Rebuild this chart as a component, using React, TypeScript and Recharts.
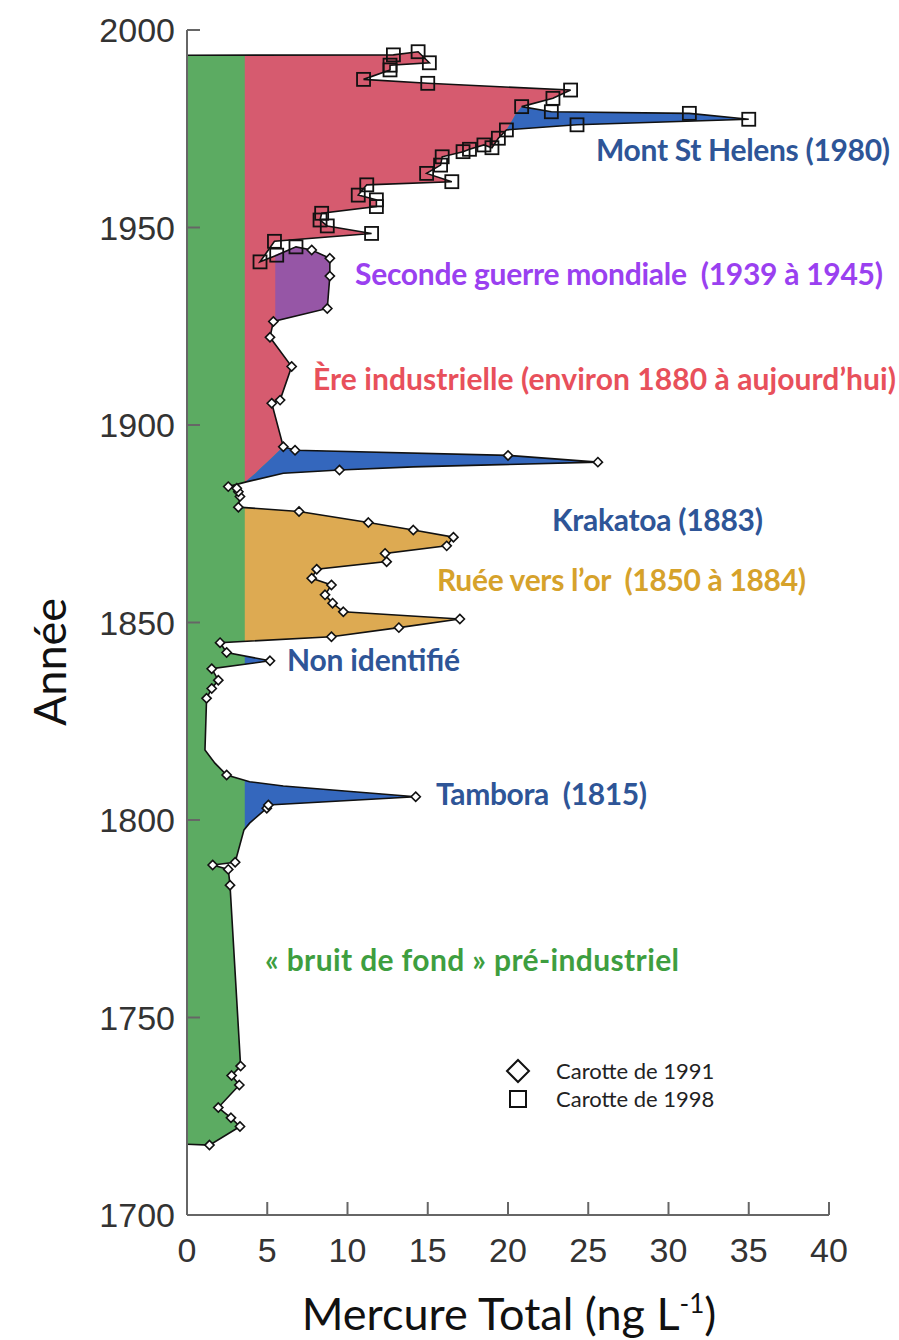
import React from "react";
import { ComposedChart, Area, Line, XAxis, YAxis } from "recharts";

// Mercury profile (year, total Hg ng/L) in the order of the drawn polyline
// core: "d" = carotte 1991 (diamond), "s" = carotte 1998 (square), "" = vertex without marker
const profile = [
  { year: 1717.9, hg: 0, core: "" },
  { year: 1717.7, hg: 1.4, core: "d" },
  { year: 1722.4, hg: 3.3, core: "d" },
  { year: 1724.6, hg: 2.74, core: "d" },
  { year: 1727.2, hg: 1.95, core: "d" },
  { year: 1732.9, hg: 3.26, core: "d" },
  { year: 1735.3, hg: 2.78, core: "d" },
  { year: 1737.7, hg: 3.34, core: "d" },
  { year: 1783.5, hg: 2.68, core: "d" },
  { year: 1787.5, hg: 2.57, core: "d" },
  { year: 1788.6, hg: 1.6, core: "d" },
  { year: 1789.3, hg: 3.0, core: "d" },
  { year: 1797.5, hg: 3.55, core: "" },
  { year: 1799.2, hg: 3.9, core: "" },
  { year: 1803.0, hg: 4.97, core: "d" },
  { year: 1803.8, hg: 5.07, core: "d" },
  { year: 1805.9, hg: 14.25, core: "d" },
  { year: 1807.2, hg: 10.2, core: "" },
  { year: 1808.6, hg: 6.0, core: "" },
  { year: 1809.7, hg: 3.9, core: "" },
  { year: 1811.4, hg: 2.47, core: "d" },
  { year: 1814.4, hg: 1.74, core: "" },
  { year: 1817.7, hg: 1.12, core: "" },
  { year: 1830.8, hg: 1.22, core: "d" },
  { year: 1833.3, hg: 1.54, core: "d" },
  { year: 1835.4, hg: 1.95, core: "d" },
  { year: 1838.3, hg: 1.54, core: "d" },
  { year: 1840.3, hg: 5.17, core: "d" },
  { year: 1842.4, hg: 2.47, core: "d" },
  { year: 1844.9, hg: 2.06, core: "d" },
  { year: 1846.4, hg: 9.0, core: "d" },
  { year: 1848.7, hg: 13.2, core: "d" },
  { year: 1850.9, hg: 17.0, core: "d" },
  { year: 1852.7, hg: 9.74, core: "d" },
  { year: 1854.9, hg: 9.07, core: "d" },
  { year: 1857.0, hg: 8.6, core: "d" },
  { year: 1859.5, hg: 9.0, core: "d" },
  { year: 1861.2, hg: 7.77, core: "d" },
  { year: 1863.5, hg: 8.08, core: "d" },
  { year: 1865.4, hg: 12.44, core: "d" },
  { year: 1867.5, hg: 12.34, core: "d" },
  { year: 1869.4, hg: 16.18, core: "d" },
  { year: 1871.6, hg: 16.6, core: "d" },
  { year: 1873.4, hg: 14.1, core: "d" },
  { year: 1875.3, hg: 11.3, core: "d" },
  { year: 1878.1, hg: 6.98, core: "d" },
  { year: 1879.2, hg: 3.2, core: "d" },
  { year: 1881.9, hg: 3.3, core: "d" },
  { year: 1883.1, hg: 3.2, core: "d" },
  { year: 1884.0, hg: 3.1, core: "d" },
  { year: 1884.4, hg: 2.57, core: "d" },
  { year: 1885.6, hg: 3.7, core: "" },
  { year: 1887.8, hg: 6.0, core: "" },
  { year: 1888.6, hg: 9.5, core: "d" },
  { year: 1889.4, hg: 14.1, core: "" },
  { year: 1890.6, hg: 25.6, core: "d" },
  { year: 1892.3, hg: 20.0, core: "d" },
  { year: 1893.6, hg: 6.73, core: "d" },
  { year: 1894.5, hg: 6.0, core: "d" },
  { year: 1905.5, hg: 5.28, core: "d" },
  { year: 1906.3, hg: 5.8, core: "d" },
  { year: 1914.8, hg: 6.52, core: "d" },
  { year: 1922.2, hg: 5.17, core: "d" },
  { year: 1926.2, hg: 5.38, core: "d" },
  { year: 1929.5, hg: 8.74, core: "d" },
  { year: 1937.7, hg: 8.9, core: "d" },
  { year: 1942.2, hg: 8.9, core: "d" },
  { year: 1944.3, hg: 7.77, core: "d" },
  { year: 1945.1, hg: 6.79, core: "s" },
  { year: 1943.0, hg: 5.59, core: "s" },
  { year: 1941.3, hg: 4.55, core: "s" },
  { year: 1946.5, hg: 5.45, core: "s" },
  { year: 1948.5, hg: 11.5, core: "s" },
  { year: 1950.4, hg: 8.74, core: "s" },
  { year: 1951.9, hg: 8.29, core: "s" },
  { year: 1953.6, hg: 8.39, core: "s" },
  { year: 1955.3, hg: 11.8, core: "s" },
  { year: 1957.0, hg: 11.8, core: "s" },
  { year: 1958.2, hg: 10.67, core: "s" },
  { year: 1960.8, hg: 11.2, core: "s" },
  { year: 1961.6, hg: 16.5, core: "s" },
  { year: 1963.7, hg: 14.93, core: "s" },
  { year: 1965.8, hg: 15.8, core: "s" },
  { year: 1967.9, hg: 15.9, core: "s" },
  { year: 1969.2, hg: 17.2, core: "s" },
  { year: 1969.8, hg: 17.6, core: "s" },
  { year: 1970.9, hg: 18.5, core: "s" },
  { year: 1970.2, hg: 19.0, core: "s" },
  { year: 1972.6, hg: 19.4, core: "s" },
  { year: 1974.7, hg: 19.9, core: "s" },
  { year: 1976.0, hg: 24.3, core: "s" },
  { year: 1977.4, hg: 35.0, core: "s" },
  { year: 1978.9, hg: 31.3, core: "s" },
  { year: 1979.3, hg: 22.7, core: "s" },
  { year: 1980.6, hg: 20.85, core: "s" },
  { year: 1982.7, hg: 22.8, core: "s" },
  { year: 1984.8, hg: 23.9, core: "s" },
  { year: 1986.5, hg: 15.0, core: "s" },
  { year: 1987.5, hg: 11.0, core: "s" },
  { year: 1989.9, hg: 12.65, core: "s" },
  { year: 1991.1, hg: 12.65, core: "s" },
  { year: 1991.7, hg: 15.1, core: "s" },
  { year: 1994.5, hg: 14.4, core: "s" },
  { year: 1993.7, hg: 12.86, core: "s" },
  { year: 1993.6, hg: 0, core: "" },
];

// pre-industrial background level and WWII inner edge (ng/L)
const BG = 3.6;
const WW = 5.5;

// red/blue boundary under Krakatoa (years, hg)
const krakYears = [1887.8, 1888.6, 1889.4, 1890.6, 1892.3, 1893.6];
const krakEdge = [4.27, 4.47, 4.68, 4.99, 5.43, 5.77];
// red/blue boundary under Mont St Helens
const mshYears = [1974.7, 1976.0, 1977.4, 1978.9, 1979.3, 1980.6];
const mshEdge = [19.9, 20.1, 20.3, 20.5, 20.6, 20.85];

const xTicks = [0, 5, 10, 15, 20, 25, 30, 35, 40];
const yTicks = [1700, 1750, 1800, 1850, 1900, 1950, 2000];

const idx = (y: number) => profile.findIndex((p) => p.year === y);
const slice = (from: number, to: number, lo: number) =>
  profile.slice(idx(from), idx(to) + 1).map((p) => ({ year: p.year, lo, hi: p.hg }));

const tamboraRows = [{ year: 1797.8, lo: BG, hi: BG }, ...slice(1799.2, 1809.7, BG), { year: 1810.1, lo: BG, hi: BG }];
const nonIdRows = [{ year: 1839.4, lo: BG, hi: BG }, ...slice(1840.3, 1840.3, BG), { year: 1841.5, lo: BG, hi: BG }];
const goldRows = [{ year: 1845.2, lo: BG, hi: BG }, ...slice(1846.4, 1878.1, BG), { year: 1879.1, lo: BG, hi: BG }];
const krakRows = [
  { year: 1885.5, lo: BG, hi: BG },
  ...slice(1887.8, 1893.6, BG).map((r, k) => ({ ...r, lo: krakEdge[k] })),
  { year: 1894.5, lo: 6.0, hi: 6.0 },
];
const mshRows = slice(1974.7, 1980.6, BG).map((r, k) => ({ ...r, lo: mshEdge[k] }));
const redRows = [
  { year: 1885.5, lo: BG, hi: BG },
  ...krakYears.map((y, k) => ({ year: y, lo: BG, hi: krakEdge[k] })),
  ...slice(1894.5, 1974.7, BG),
  ...mshYears.slice(1, 5).map((y, k) => ({ year: y, lo: BG, hi: mshEdge[k + 1] })),
  ...slice(1980.6, 1993.7, BG),
  { year: 1993.6, lo: BG, hi: BG },
];
const purpleRows = [{ year: 1926.4, lo: WW, hi: WW }, ...slice(1929.5, 1945.1, WW), { year: 1943.1, lo: WW, hi: WW }];

const range = (d: any) => [d.lo, d.hi];

const COLORS = {
  green: "#5cab62",
  red: "#d65b6f",
  blue: "#3467bd",
  purple: "#9656a6",
  orange: "#ddaa52",
};

const Marker = (props: any) => {
  const { cx, cy, payload, index } = props;
  const key = `m-${index}`;
  if (cx == null || cy == null || !payload || !payload.core) return <g key={key} />;
  if (payload.core === "s") {
    return <rect key={key} x={cx - 6.5} y={cy - 6.5} width={13} height={13} fill="none" stroke="#111" strokeWidth={1.8} />;
  }
  const r = 4.6;
  return (
    <path
      key={key}
      d={`M${cx},${cy - r}L${cx + r},${cy}L${cx},${cy + r}L${cx - r},${cy}Z`}
      fill="#fff"
      stroke="#111"
      strokeWidth={1.6}
    />
  );
};

const ann = { fontFamily: "Lato, 'Open Sans', sans-serif", fontWeight: 700, fontSize: 30, whiteSpace: "pre" } as const;
const small = { fontFamily: "Lato, sans-serif", fontSize: 22 } as const;
const big = { fontFamily: "Lato, sans-serif", fontSize: 45 } as const;

export default function App() {
  return (
    <div style={{ position: "relative", width: 899, height: 1340, background: "#fff" }}>
      <style>{"body{margin:0}"}</style>
      <ComposedChart
        width={899}
        height={1340}
        layout="vertical"
        margin={{ top: 30, right: 70, bottom: 0, left: 0 }}
      >
        <XAxis
          type="number"
          dataKey="hg"
          domain={[0, 40]}
          ticks={xTicks}
          height={125}
          tickSize={-13}
          tickMargin={36}
          axisLine={{ stroke: "#666", strokeWidth: 2 }}
          tickLine={{ stroke: "#666", strokeWidth: 2 }}
          tick={{ fill: "#333", fontSize: 34, fontFamily: "'Liberation Sans', Arial, sans-serif" }}
          allowDataOverflow
        />
        <YAxis
          type="number"
          dataKey="year"
          domain={[1700, 2000]}
          ticks={yTicks}
          reversed
          width={187}
          tickSize={-13}
          tickMargin={25}
          axisLine={{ stroke: "#666", strokeWidth: 2 }}
          tickLine={{ stroke: "#666", strokeWidth: 2 }}
          tick={{ fill: "#333", fontSize: 34, fontFamily: "'Liberation Sans', Arial, sans-serif" }}
          allowDataOverflow
        />
        <Area data={profile} dataKey="hg" type="linear" fill={COLORS.green} fillOpacity={1} stroke="none" isAnimationActive={false} activeDot={false} />
        <Area data={redRows} dataKey={range} type="linear" fill={COLORS.red} fillOpacity={1} stroke="none" isAnimationActive={false} activeDot={false} />
        <Area data={purpleRows} dataKey={range} type="linear" fill={COLORS.purple} fillOpacity={1} stroke="none" isAnimationActive={false} activeDot={false} />
        <Area data={mshRows} dataKey={range} type="linear" fill={COLORS.blue} fillOpacity={1} stroke="none" isAnimationActive={false} activeDot={false} />
        <Area data={krakRows} dataKey={range} type="linear" fill={COLORS.blue} fillOpacity={1} stroke="none" isAnimationActive={false} activeDot={false} />
        <Area data={tamboraRows} dataKey={range} type="linear" fill={COLORS.blue} fillOpacity={1} stroke="none" isAnimationActive={false} activeDot={false} />
        <Area data={nonIdRows} dataKey={range} type="linear" fill={COLORS.blue} fillOpacity={1} stroke="none" isAnimationActive={false} activeDot={false} />
        <Area data={goldRows} dataKey={range} type="linear" fill={COLORS.orange} fillOpacity={1} stroke="none" isAnimationActive={false} activeDot={false} />
        <Line data={profile} dataKey="hg" type="linear" stroke="#111" strokeWidth={1.6} dot={Marker} activeDot={false} isAnimationActive={false} />
      </ComposedChart>
      <svg width={899} height={1340} style={{ position: "absolute", left: 0, top: 0, pointerEvents: "none" }}>
        <text x={596} y={161} fill="#2e5597" style={ann} textLength={294} lengthAdjust="spacing">Mont St Helens (1980)</text>
        <text x={355} y={285} fill="#9a40f0" style={ann} textLength={528} lengthAdjust="spacing">Seconde guerre mondiale  (1939 à 1945)</text>
        <text x={313} y={390} fill="#e8505b" style={ann} textLength={583} lengthAdjust="spacing">Ère industrielle (environ 1880 à aujourd’hui)</text>
        <text x={552} y={531} fill="#2e5597" style={ann} textLength={211} lengthAdjust="spacing">Krakatoa (1883)</text>
        <text x={437} y={591} fill="#d6a22b" style={ann} textLength={369} lengthAdjust="spacing">Ruée vers l’or  (1850 à 1884)</text>
        <text x={287} y={671} fill="#2e5597" style={ann} textLength={173} lengthAdjust="spacing">Non identifié</text>
        <text x={436} y={805} fill="#2e5597" style={ann} textLength={211} lengthAdjust="spacing">Tambora  (1815)</text>
        <text x={265} y={971} fill="#3e9e3f" style={ann} textLength={414} lengthAdjust="spacing">« bruit de fond » pré-industriel</text>

        <path d="M518,1060L529,1071L518,1082L507,1071Z" fill="none" stroke="#111" strokeWidth={2} />
        <rect x={510} y={1091} width={16} height={16} fill="none" stroke="#111" strokeWidth={2} />
        <text x={556} y={1079} fill="#222" style={small}>Carotte de 1991</text>
        <text x={556} y={1107} fill="#222" style={small}>Carotte de 1998</text>

        <text transform="translate(66,662) rotate(-90)" textAnchor="middle" fill="#111" style={big}>
          Année
        </text>
        <text x={509} y={1330} textAnchor="middle" fill="#111" style={big}>
          Mercure Total (ng L<tspan dy={-17} fontSize={26}>-1</tspan><tspan dy={17}>)</tspan>
        </text>
      </svg>
    </div>
  );
}
